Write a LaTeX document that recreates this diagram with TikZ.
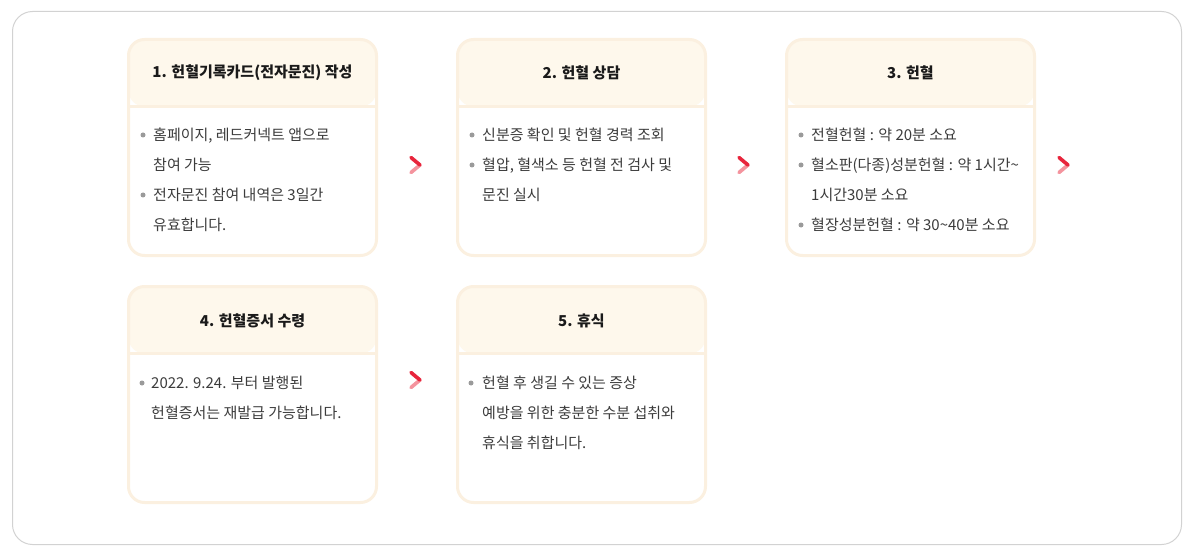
\documentclass[tikz,border=0pt]{standalone}
\usepackage{fontspec}
\setmainfont{Noto Sans CJK KR}
\usetikzlibrary{calc}
\definecolor{frameline}{HTML}{D2D2D2}
\definecolor{cardline}{HTML}{FBF0E0}
\definecolor{headfill}{HTML}{FEF8EC}
\definecolor{titletext}{HTML}{1A1A1A}
\definecolor{bodytext}{HTML}{3C3C3C}
\definecolor{bulletgray}{HTML}{9A9A9A}
\definecolor{chevdark}{HTML}{E8253C}
\definecolor{chevlight}{HTML}{F4949E}
\begin{document}
\begin{tikzpicture}[x=1pt,y=-1pt,
  card/.style={draw=cardline, line width=3pt, rounded corners=16pt, fill=white,
    minimum width=248pt, minimum height=216pt, anchor=north west, inner sep=0pt, outer sep=0pt,
    path picture={
      \fill[headfill] (path picture bounding box.north west) rectangle ([yshift=-67pt]path picture bounding box.north east);
      \draw[cardline, line width=3pt] ([yshift=-67pt]path picture bounding box.north west) -- ([yshift=-67pt]path picture bounding box.north east);
    }},
  title/.style={font=\fontsize{15}{17}\selectfont\bfseries, text=titletext, inner sep=0pt},
  bodyline/.style={anchor=base west, inner sep=0pt, font=\fontsize{15}{17}\selectfont, text=bodytext},
  dot/.style={fill=bulletgray},
  chevA/.style={draw=chevdark, line width=3.6pt, line cap=round},
  chevB/.style={draw=chevlight, line width=3.6pt, line cap=round}
]
\useasboundingbox (0,0) rectangle (1192,559);
\draw[frameline, line width=1pt, rounded corners=20pt] (12.5,11.5) rectangle (1181.5,544.5);

% cards
\node[card] (c1) at (128.5,39.5) {};
\node[card] (c2) at (457.5,39.5) {};
\node[card] (c3) at (786.5,39.5) {};
\node[card] (c4) at (128.5,286.5) {};
\node[card] (c5) at (457.5,286.5) {};

% titles
\node[title] (h1) at (252.5,73) {1. 헌혈기록카드(전자문진) 작성};
\node[title] (h2) at (581.5,73) {2. 헌혈 상담};
\node[title] (h3) at (910.5,73) {3. 헌혈};
\node[title] (h4) at (252.5,321) {4. 헌혈증서 수령};
\node[title] (h5) at (581.5,321) {5. 휴식};

% card 1 body
\fill[dot] (143,135) circle (2.5);
\node[bodyline] (b1a) at (153,140.5) {홈페이지, 레드커넥트 앱으로};
\node[bodyline] (b1b) at (153,170.5) {참여 가능};
\fill[dot] (143,195) circle (2.5);
\node[bodyline] (b1c) at (153,200.5) {전자문진 참여 내역은 3일간};
\node[bodyline] (b1d) at (153,230.5) {유효합니다.};

% card 2 body
\fill[dot] (472,135) circle (2.5);
\node[bodyline] (b2a) at (482,140.5) {신분증 확인 및 헌혈 경력 조회};
\fill[dot] (472,165) circle (2.5);
\node[bodyline] (b2b) at (482,170.5) {혈압, 혈색소 등 헌혈 전 검사 및};
\node[bodyline] (b2c) at (482,200.5) {문진 실시};

% card 3 body
\fill[dot] (801,135) circle (2.5);
\node[bodyline] (b3a) at (811,140.5) {전혈헌혈 : 약 20분 소요};
\fill[dot] (801,165) circle (2.5);
\node[bodyline] (b3b) at (811,170.5) {혈소판(다종)성분헌혈 : 약 1시간\textasciitilde};
\node[bodyline] (b3c) at (811,200.5) {1시간30분 소요};
\fill[dot] (801,225) circle (2.5);
\node[bodyline] (b3d) at (811,230.5) {혈장성분헌혈 : 약 30\textasciitilde 40분 소요};

% card 4 body
\fill[dot] (142,383) circle (2.5);
\node[bodyline] (b4a) at (151,388.5) {2022. 9.24. 부터 발행된};
\node[bodyline] (b4b) at (151,418.5) {헌혈증서는 재발급 가능합니다.};

% card 5 body
\fill[dot] (471,383) circle (2.5);
\node[bodyline] (b5a) at (482,388.5) {헌혈 후 생길 수 있는 증상};
\node[bodyline] (b5b) at (482,418.5) {예방을 위한 충분한 수분 섭취와};
\node[bodyline] (b5c) at (482,448.5) {휴식을 취합니다.};

% chevrons
\coordinate (a1) at (420,165);
\coordinate (a2) at (748,165);
\coordinate (a3) at (1068,165);
\coordinate (a4) at (420,380);
\foreach \a in {a1,a2,a3,a4}{
  \draw[chevB] (\a) -- ++(-9,7.5);
  \draw[chevA] ($(\a)+(-9,-7.5)$) -- (\a);
}
\end{tikzpicture}
\end{document}
